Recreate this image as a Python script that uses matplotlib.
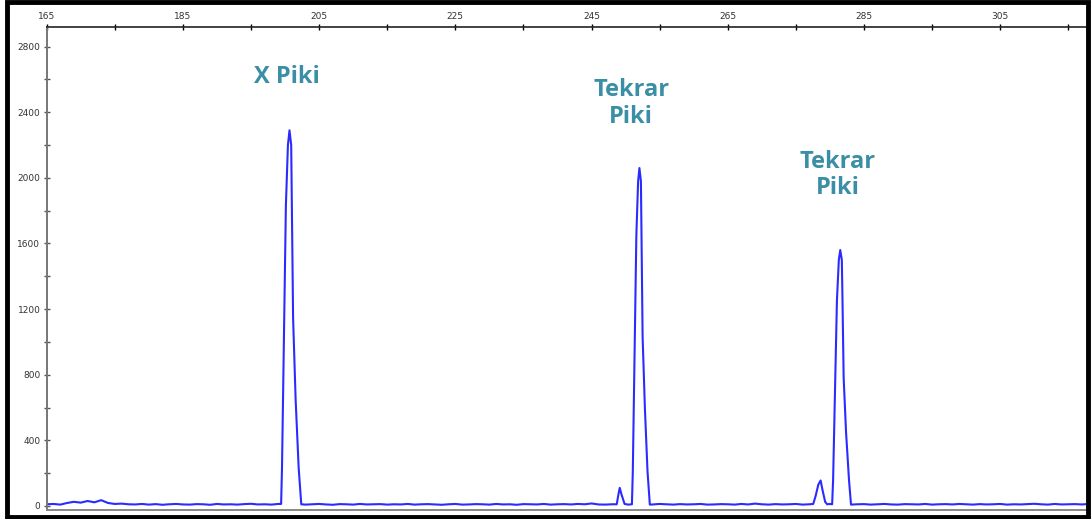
import matplotlib.pyplot as plt
import numpy as np
from matplotlib.patches import Rectangle
import matplotlib.ticker as tck

# baseline read every 1 bp from 165 to 318
base_start = 165
base_noise = [10, 12, 8, 18, 25, 20, 30, 22, 35, 18, 12, 14, 10, 9, 12, 8, 11, 7, 10, 12,
              9, 8, 11, 10, 7, 12, 9, 10, 8, 11, 13, 9, 10, 8, 12, 10, 9, 11,
              8, 10, 12, 9, 7, 11, 10, 8, 12, 9, 10, 11, 8, 10, 9, 12, 8, 10,
              11, 9, 7, 10, 12, 8, 9, 11, 10, 8, 12, 9, 10, 7, 11, 10, 9, 12,
              8, 10, 11, 9, 12, 10, 15, 9, 8, 10, 12, 9, 11, 8, 10, 9, 12, 10,
              8, 11, 9, 10, 12, 8, 9, 11, 10, 8, 12, 9, 14, 10, 8, 11, 9, 10,
              12, 8, 10, 9, 11, 10, 8, 12, 9, 10, 11, 8, 10, 12, 9, 8, 11, 10,
              9, 12, 8, 10, 11, 9, 12, 10, 8, 11, 9, 10, 12, 8, 10, 9, 11, 13,
              10, 8, 12, 9, 10, 11, 9, 12]

peak1_x = [199.42, 199.55, 199.7, 199.88, 200.12, 200.42, 200.65, 200.9, 201.0, 201.18, 201.55, 202.0, 202.38]
peak1_y = [12, 230, 650, 1145, 1830, 2200, 2290, 2200, 1830, 1145, 650, 230, 10]

small1_x = [248.7, 248.95, 249.14, 249.4, 249.85, 250.4]
small1_y = [10, 70, 110, 70, 12, 8]

peak2_x = [250.93, 251.06, 251.2, 251.36, 251.58, 251.84, 252.03, 252.25, 252.34, 252.5, 252.84, 253.22, 253.56]
peak2_y = [10, 210, 590, 1030, 1650, 1980, 2060, 1980, 1650, 1030, 590, 210, 8]

small2_x = [277.55, 277.9, 278.3, 278.64, 278.9, 279.3, 279.6, 280.0]
small2_y = [12, 60, 130, 155, 100, 25, 10, 12]

peak3_x = [280.33, 280.47, 280.62, 280.79, 281.03, 281.31, 281.52, 281.75, 281.85, 282.02, 282.37, 282.8, 283.1]
peak3_y = [10, 160, 450, 780, 1250, 1500, 1560, 1500, 1250, 780, 450, 160, 8]

labels = ["X Piki", "Tekrar\nPiki", "Tekrar\nPiki"]
label_x = [200.2, 250.83, 281.1]
label_y = [2616, 2454, 2018]

# build trace
bx = base_start + np.arange(len(base_noise))
by = np.array(base_noise, dtype=float)
segments = [(peak1_x, peak1_y), (small1_x, small1_y), (peak2_x, peak2_y),
            (small2_x, small2_y), (peak3_x, peak3_y)]
keep = np.ones(len(bx), dtype=bool)
for sx, sy in segments:
    keep &= ~((bx >= min(sx)) & (bx <= max(sx)))
xs = list(bx[keep])
ys = list(by[keep])
for sx, sy in segments:
    xs += sx
    ys += sy
order = np.argsort(xs)
xs = np.array(xs)[order]
ys = np.array(ys)[order]

fig = plt.figure(figsize=(10.91, 5.19), dpi=100)
ax = fig.add_axes([0.0428, 0.0173, 0.9526, 0.9307])

ax.plot(xs, ys, color="#2b2bff", lw=1.5)

ax.set_xlim(165, 317.6)
ax.set_ylim(-25, 2920)

ax.xaxis.tick_top()
ax.xaxis.set_major_locator(tck.MultipleLocator(20, offset=5))
ax.xaxis.set_minor_locator(tck.MultipleLocator(10, offset=5))
ax.yaxis.set_major_locator(tck.MultipleLocator(400))
ax.yaxis.set_minor_locator(tck.MultipleLocator(200))
ax.xaxis.set_minor_formatter(tck.NullFormatter())
ax.tick_params(axis="both", which="both", direction="inout", length=5, width=1,
               labelsize=6.5, labelcolor="#333333", pad=2)
ax.tick_params(axis="y", which="both", colors="#555555", labelcolor="#333333")

ax.spines["right"].set_visible(False)
ax.spines["left"].set_color("#777777")
ax.spines["left"].set_linewidth(1.4)
ax.spines["bottom"].set_color("#888888")
ax.spines["bottom"].set_linewidth(1.4)
ax.spines["top"].set_color("#222222")
ax.spines["top"].set_linewidth(1.2)

for t, x, y in zip(labels, label_x, label_y):
    ax.text(x, y, t, ha="center", va="center", fontsize=17, fontweight="bold",
            color="#3a8ea5", family="Open Sans", linespacing=1.15)

# outer black frame
fig.patches.append(Rectangle((0.0065, 0.004), 0.9905, 0.992, transform=fig.transFigure,
                             fill=False, edgecolor="black", lw=3.5))

plt.savefig("out.png")
